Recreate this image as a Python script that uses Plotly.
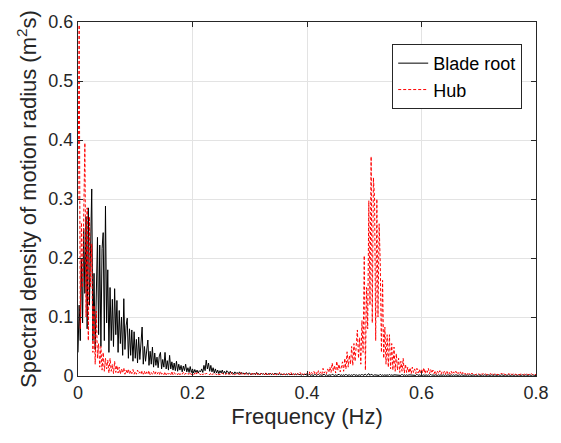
import plotly.graph_objects as go

# Frequency resolution of the spectra (Hz)
DF = 0.002

# Spectral density values in units of 1e-3 m^2 s, sampled every DF Hz from 0 Hz
blade_root = [
    40, 120, 60, 200, 90, 250, 140, 270, 80, 285,
    120, 210, 317, 60, 174, 45, 140, 235, 70, 222,
    50, 216, 243, 60, 288, 90, 180, 40, 150, 60,
    130, 50, 148, 70, 128, 40, 111, 55, 100, 35,
    131, 45, 85, 98, 30, 80, 35, 78, 25, 75,
    30, 62, 22, 66, 28, 55, 83, 20, 50, 25,
    45, 61, 18, 42, 20, 49, 15, 39, 18, 32,
    14, 34, 40, 12, 28, 15, 40, 12, 26, 10,
    35, 12, 24, 10, 22, 9, 25, 8, 20, 10,
    18, 7, 17, 9, 20, 7, 14, 6, 16, 6,
    12, 5, 11, 6, 10, 5, 9, 7, 12, 6,
    18, 9, 27, 12, 22, 8, 18, 7, 14, 5,
    12, 5, 10, 4, 9, 5, 10, 4, 8, 4,
    9, 7, 3, 8, 4, 6, 3, 7, 4, 6,
    3, 7, 3, 6, 4, 5, 3, 6, 3, 5,
    5, 2, 4, 3, 5, 2, 6, 3, 4, 2,
    5, 3, 4, 2, 5, 2, 4, 3, 5, 2,
    4, 2, 5, 3, 4, 2, 4, 2, 3, 2,
    4, 2, 3, 2, 4, 2, 3, 2, 4, 2,
    3, 2, 4, 2, 3, 1, 3, 2, 3, 2,
    2, 1, 3, 1, 2, 2, 1, 3, 1, 2,
    3, 1, 2, 1, 2, 3, 1, 2, 1, 2,
    2, 1, 3, 2, 1, 2, 1, 2, 3, 1,
    2, 1, 2, 1, 3, 1, 2, 2, 1, 2,
    1, 3, 1, 2, 1, 2, 2, 1, 3, 1,
    2, 3, 1, 2, 4, 1, 3, 2, 1, 2,
    2, 1, 2, 1, 3, 1, 2, 1, 2, 1,
    2, 1, 3, 1, 2, 1, 2, 2, 1, 2,
    1, 2, 1, 3, 1, 2, 1, 2, 1, 2,
    2, 1, 2, 1, 2, 1, 3, 1, 2, 1,
    2, 1, 2, 1, 2, 1, 2, 1, 3, 1,
    2, 1, 2, 1, 1, 2, 1, 2, 1, 2,
    1, 2, 1, 2, 1, 1, 2, 1, 2, 1,
    2, 1, 1, 2, 1, 2, 1, 1, 2, 1,
    2, 1, 2, 1, 1, 2, 1, 2, 1, 1,
    2, 1, 1, 2, 1, 2, 1, 1, 2, 1,
    1, 2, 1, 1, 2, 1, 1, 2, 1, 1,
    2, 1, 1, 2, 1, 1, 2, 1, 1, 2,
    1, 1, 2, 1, 1, 2, 1, 1, 2, 1,
    1, 2, 1, 1, 2, 1, 1, 2, 1, 1, 1,
]

hub = [
    300, 595, 80, 260, 150, 280, 395, 100, 285, 60,
    270, 150, 224, 40, 120, 20, 110, 30, 55, 15,
    50, 10, 40, 8, 30, 12, 27, 5, 30, 8,
    20, 4, 25, 6, 18, 5, 15, 3, 12, 5,
    14, 3, 10, 4, 12, 3, 9, 4, 11, 3,
    8, 3, 10, 4, 7, 3, 9, 3, 8, 2,
    7, 3, 9, 2, 6, 3, 8, 2, 7, 3,
    6, 2, 8, 3, 5, 2, 7, 2, 6, 3,
    5, 2, 8, 2, 6, 3, 5, 2, 6, 2,
    5, 3, 6, 2, 5, 2, 4, 3, 6, 2,
    4, 2, 5, 2, 6, 3, 4, 2, 5, 2,
    4, 2, 5, 3, 4, 2, 5, 2, 4, 2,
    4, 2, 5, 2, 3, 2, 5, 3, 4, 2,
    5, 2, 4, 2, 6, 2, 3, 2, 4, 3,
    5, 2, 6, 3, 4, 2, 5, 2, 4, 2,
    3, 2, 5, 2, 4, 3, 6, 2, 4, 2,
    5, 3, 4, 2, 6, 2, 4, 2, 5, 3,
    4, 2, 5, 2, 3, 2, 6, 3, 4, 2,
    5, 2, 4, 3, 5, 2, 6, 2, 4, 2,
    5, 3, 4, 2, 6, 3, 5, 2, 4, 3,
    5, 3, 7, 2, 6, 4, 8, 3, 6, 2,
    9, 4, 7, 3, 13, 5, 8, 4, 12, 6,
    15, 6, 22, 8, 18, 5, 25, 10, 20, 7,
    15, 24, 8, 30, 12, 41, 15, 35, 20, 50,
    18, 55, 25, 60, 78, 30, 65, 20, 94, 40,
    204, 10, 150, 80, 297, 120, 372, 90, 336, 302,
    60, 300, 100, 258, 190, 40, 162, 30, 83, 20,
    70, 15, 70, 12, 55, 10, 49, 8, 38, 10,
    30, 6, 25, 8, 30, 5, 20, 6, 15, 5,
    14, 4, 15, 6, 12, 4, 13, 5, 11, 4,
    12, 5, 14, 4, 10, 6, 13, 4, 11, 5,
    10, 4, 9, 3, 8, 4, 9, 3, 7, 4,
    8, 3, 9, 4, 7, 3, 8, 3, 7, 4,
    8, 3, 6, 3, 7, 2, 6, 3, 5, 2,
    5, 3, 4, 2, 5, 3, 4, 2, 3, 2,
    4, 2, 5, 3, 4, 2, 4, 2, 3, 2,
    4, 3, 5, 2, 4, 2, 3, 2, 4, 3,
    5, 2, 4, 2, 3, 2, 4, 3, 5, 2,
    4, 2, 3, 2, 4, 2, 3, 3, 4, 2,
    3, 2, 4, 2, 3, 2, 4, 2, 3, 2, 3,
]

series_names = ["Blade root", "Hub"]
x_ticks = [0, 0.2, 0.4, 0.6, 0.8]
x_tick_labels = ["0", "0.2", "0.4", "0.6", "0.8"]
y_ticks = [0, 0.1, 0.2, 0.3, 0.4, 0.5, 0.6]
y_tick_labels = ["0", "0.1", "0.2", "0.3", "0.4", "0.5", "0.6"]

f_blade = [round(i * DF, 4) for i in range(len(blade_root))]
f_hub = [round(i * DF, 4) for i in range(len(hub))]
v_blade = [v / 1000 for v in blade_root]
v_hub = [v / 1000 for v in hub]

FONT = "Liberation Sans, Arial, sans-serif"
AX = "#262626"

fig = go.Figure()
fig.add_trace(go.Scatter(x=f_blade, y=v_blade, mode="lines", name=series_names[0],
                         line=dict(color="black", width=1)))
fig.add_trace(go.Scatter(x=f_hub, y=v_hub, mode="lines", name=series_names[1],
                         line=dict(color="#ff0000", width=1, dash="3px,2px")))

axis_common = dict(
    showline=True, linecolor=AX, linewidth=1, mirror="ticks",
    ticks="inside", ticklen=5, tickcolor=AX,
    showgrid=True, gridcolor="#e3e3e3", gridwidth=1,
    zeroline=False, tickfont=dict(family=FONT, size=18, color=AX),
)

fig.update_xaxes(range=[0, 0.8], tickvals=x_ticks, ticktext=x_tick_labels,
                 title=dict(text="Frequency (Hz)", font=dict(family=FONT, size=22, color=AX),
                            standoff=7),
                 **axis_common)
fig.update_yaxes(range=[0, 0.6], tickvals=y_ticks, ticktext=y_tick_labels,
                 title=dict(text="Spectral density of motion radius (m<sup>2</sup>s)",
                            font=dict(family=FONT, size=22, color=AX), standoff=5),
                 **axis_common)

fig.update_layout(
    width=561, height=443,
    margin=dict(l=78, r=18, t=20, b=67),
    plot_bgcolor="white", paper_bgcolor="white",
    font=dict(family=FONT, color=AX),
    showlegend=True,
    legend=dict(x=0.686, y=0.938, xanchor="left", yanchor="top",
                bgcolor="white", bordercolor=AX, borderwidth=1,
                font=dict(family=FONT, size=18, color="black"),
                tracegroupgap=0, itemwidth=30),
)

fig.write_html("out.html")
